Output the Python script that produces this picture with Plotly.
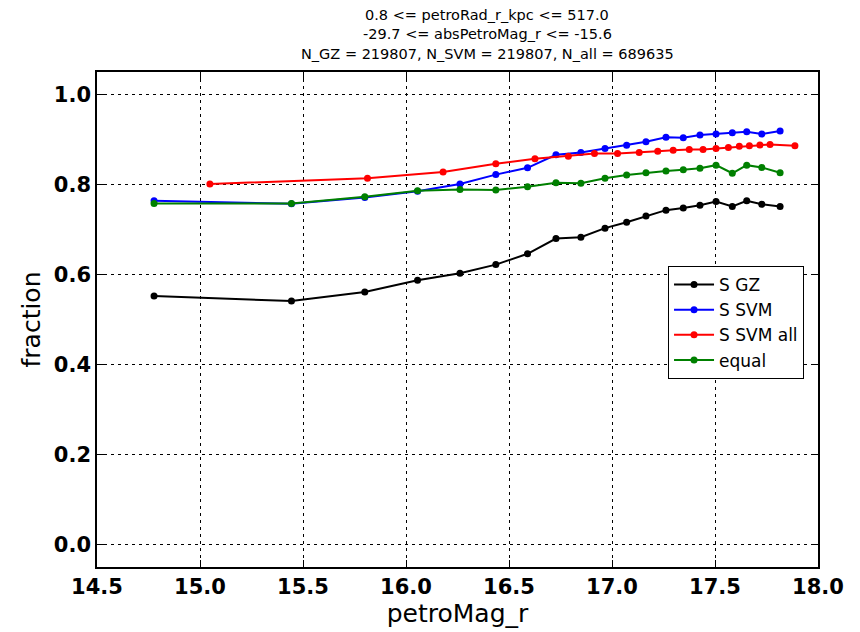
import plotly.graph_objects as go

# x positions (petroMag_r bins)
x_bins = [14.777, 15.444, 15.800, 16.056, 16.262, 16.436, 16.590, 16.728, 16.849, 16.966,
          17.071, 17.165, 17.262, 17.346, 17.427, 17.505, 17.584, 17.654, 17.727, 17.816]
s_gz = [0.552, 0.541, 0.561, 0.587, 0.603, 0.622, 0.646, 0.680, 0.683, 0.703,
        0.716, 0.730, 0.743, 0.748, 0.754, 0.762, 0.751, 0.764, 0.756, 0.751]
s_svm = [0.764, 0.757, 0.771, 0.785, 0.801, 0.822, 0.837, 0.866, 0.871, 0.880,
         0.887, 0.895, 0.905, 0.904, 0.910, 0.912, 0.915, 0.917, 0.912, 0.919]
equal = [0.758, 0.758, 0.773, 0.786, 0.789, 0.788, 0.795, 0.804, 0.803, 0.814,
         0.821, 0.826, 0.830, 0.833, 0.836, 0.843, 0.825, 0.843, 0.838, 0.826]

x_all = [15.048, 15.813, 16.180, 16.436, 16.626, 16.788, 16.915, 17.027, 17.132, 17.222,
         17.297, 17.375, 17.442, 17.505, 17.565, 17.618, 17.667, 17.718, 17.767, 17.888]
s_svm_all = [0.801, 0.814, 0.828, 0.846, 0.857, 0.863, 0.869, 0.869, 0.871, 0.874,
             0.876, 0.878, 0.878, 0.880, 0.882, 0.885, 0.886, 0.888, 0.889, 0.886]

title_lines = ["0.8 <= petroRad_r_kpc <= 517.0",
               "-29.7 <= absPetroMag_r <= -15.6",
               "N_GZ = 219807, N_SVM = 219807, N_all = 689635"]

x_ticks = [14.5, 15.0, 15.5, 16.0, 16.5, 17.0, 17.5, 18.0]
y_ticks = [0.0, 0.2, 0.4, 0.6, 0.8, 1.0]

FONT = "DejaVu Sans"

series = [
    ("S GZ", x_bins, s_gz, "#000000"),
    ("S SVM", x_bins, s_svm, "#0000ff"),
    ("S SVM all", x_all, s_svm_all, "#ff0000"),
    ("equal", x_bins, equal, "#008000"),
]

fig = go.Figure()
for name, xs, ys, col in series:
    fig.add_trace(go.Scatter(
        x=xs, y=ys, name=name, mode="lines+markers",
        line=dict(color=col, width=2),
        marker=dict(color=col, size=7, symbol="circle"),
    ))

axis_common = dict(
    showline=True, linecolor="black", linewidth=1.5, mirror="ticks",
    ticks="inside", ticklen=7, tickwidth=1, tickcolor="black",
    showgrid=True, gridcolor="black", gridwidth=1, griddash="3px,4px",
    zeroline=False, automargin=False,
    tickfont=dict(family=FONT, size=21, color="black", weight="bold"),
)

fig.update_xaxes(
    range=[14.5, 18.0], tickvals=x_ticks, ticktext=[f"{v:.1f}" for v in x_ticks],
    title=dict(text="petroMag_r", font=dict(family=FONT, size=25, color="black"), standoff=1),
    **axis_common,
)
fig.update_yaxes(
    range=[-0.05, 1.05], tickvals=y_ticks, ticktext=[f"{v:.1f}" for v in y_ticks],
    title=dict(text="fraction", font=dict(family=FONT, size=25, color="black"), standoff=6),
    **axis_common,
)

# three title lines, placed individually above the plot
for line, shift in zip(title_lines, [57, 38, 18]):
    fig.add_annotation(
        text=line,
        x=0.541, xref="paper", xanchor="center",
        y=1.0, yref="paper", yanchor="middle", yshift=shift,
        showarrow=False, align="center",
        font=dict(family=FONT, size=14.5, color="black"),
    )

# page body has an 8px margin, so the figure is shrunk and margins shifted by 8px
fig.update_layout(
    width=852, height=624,
    margin=dict(l=89, r=42, t=64, b=65, autoexpand=False),
    paper_bgcolor="white", plot_bgcolor="white",
    legend=dict(
        x=0.792, y=0.608, xanchor="left", yanchor="top",
        bgcolor="white", bordercolor="black", borderwidth=1,
        font=dict(family=FONT, size=17, color="black"),
        itemwidth=40,
    ),
    showlegend=True,
)

fig.write_html("out.html")
